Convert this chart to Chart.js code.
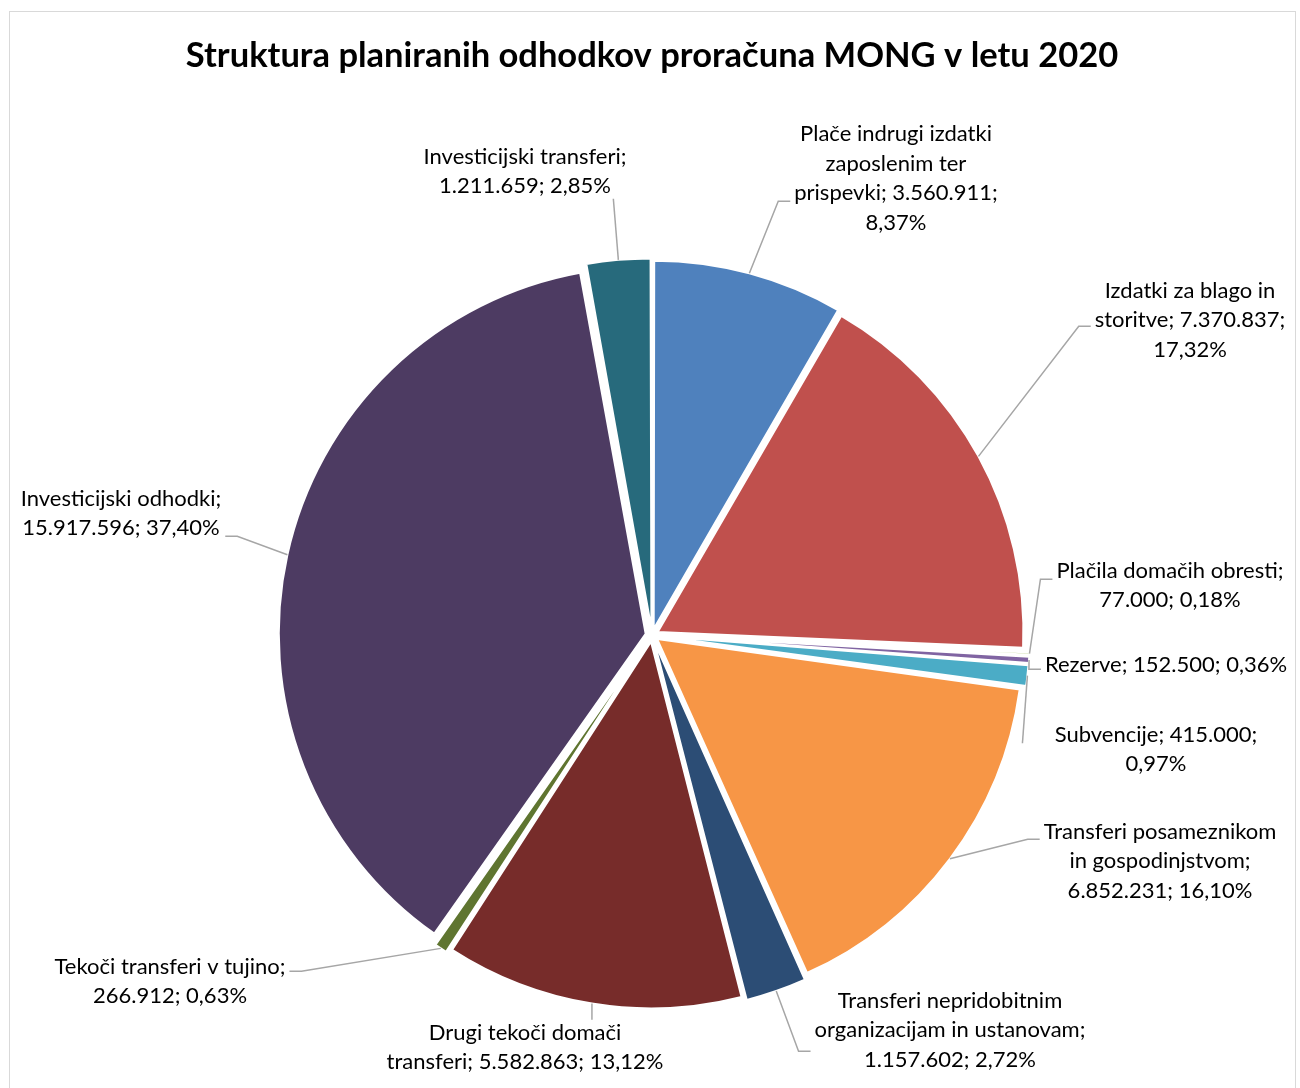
<!DOCTYPE html>
<html>
<head>
<meta charset="utf-8">
<script src="https://cdn.jsdelivr.net/npm/chart.js@4.4.1/dist/chart.umd.min.js"></script>
<style>
  html, body { margin: 0; padding: 0; background: #fff; }
</style>
</head>
<body>
<canvas id="pie" width="1300" height="1088"></canvas>
<script>
const categories = [
  'Plače indrugi izdatki zaposlenim ter prispevki',
  'Izdatki za blago in storitve',
  'Plačila domačih obresti',
  'Rezerve',
  'Subvencije',
  'Transferi posameznikom in gospodinjstvom',
  'Transferi nepridobitnim organizacijam in ustanovam',
  'Drugi tekoči domači transferi',
  'Tekoči transferi v tujino',
  'Investicijski odhodki',
  'Investicijski transferi'
];
const values = [3560911, 7370837, 77000, 152500, 415000, 6852231, 1157602, 5582863, 266912, 15917596, 1211659];
const colors = ['#4F81BD', '#C0504D', '#9BBB59', '#8064A2', '#4BACC6', '#F79646',
                '#2C4D75', '#772C2A', '#5F7530', '#4D3B62', '#276A7C'];

// label block centre relative to pie centre, side where the leader line joins, join y shift
const labelPos = [
  [244, -457, 'l', 23], [538, -315, 'l', 6], [518, -50, 'l', -6], [514, 30, 'l', 4],
  [504, 114, 'v', -6], [508, 226, 'l', -22], [298, 395, 'l', 21], [-127, 412, 't', 0],
  [-482, 346, 'r', -10], [-531, -122, 'r', 23], [-127, -464, 'b', 0]
];
// words on each line of a label
const lineWords = [[3, 2, 2, 1], [4, 2, 1], [3, 2], [3], [2, 1], [2, 2, 2], [2, 3, 2], [3, 3], [4, 2], [2, 2], [2, 2]];

const LINE = 29.5;
const total = values.reduce((a, b) => a + b, 0);
const fmt = v => String(v).replace(/\B(?=(\d{3})+(?!\d))/g, '.');
const pct = v => (v / total * 100).toFixed(2).replace('.', ',') + '%';

function splitLines(text, counts) {
  const words = text.split(' ');
  const lines = [];
  let k = 0;
  counts.forEach(n => { lines.push(words.slice(k, k + n).join(' ')); k += n; });
  return lines;
}

const pieLabels = {
  id: 'pieLabels',
  beforeDraw(chart) {
    const ctx = chart.ctx;
    ctx.save();
    ctx.strokeStyle = '#d9d9d9';
    ctx.lineWidth = 1;
    ctx.strokeRect(9.5, 11.5, 1286, 1100);
    ctx.restore();
  },
  afterDatasetsDraw(chart) {
    const ctx = chart.ctx;
    const meta = chart.getDatasetMeta(0);
    ctx.save();
    ctx.font = '22px Lato';
    ctx.textAlign = 'center';
    ctx.textBaseline = 'middle';
    meta.data.forEach((arc, i) => {
      const p = arc.getProps(['x', 'y', 'startAngle', 'endAngle', 'outerRadius', 'circumference'], true);
      const mid = (p.startAngle + p.endAngle) / 2;
      const t = arc.options.offset / 4;
      const fix = 1 - Math.sin(Math.min(Math.PI, p.circumference));
      const r = p.outerRadius + t * fix + t;
      const sx = p.x + Math.cos(mid) * r;
      const sy = p.y + Math.sin(mid) * r;
      const text = categories[i] + '; ' + fmt(values[i]) + '; ' + pct(values[i]);
      const lines = splitLines(text, lineWords[i]);
      const w = Math.max(...lines.map(l => ctx.measureText(l).width));
      const h = lines.length * LINE;
      const [dx, dy, side, ady] = labelPos[i];
      const cx = p.x + dx, cy = p.y + dy;

      ctx.strokeStyle = '#a6a6a6';
      ctx.lineWidth = 1.5;
      ctx.beginPath();
      ctx.moveTo(sx, sy);
      if (side === 'l') {
        const ex = cx - w / 2 - 4, ay = cy + ady;
        ctx.lineTo(ex - 12, ay);
        ctx.lineTo(ex, ay);
      } else if (side === 'r') {
        const ex = cx + w / 2 + 4, ay = cy + ady;
        ctx.lineTo(ex + 12, ay);
        ctx.lineTo(ex, ay);
      } else if (side === 't') {
        ctx.lineTo(sx, cy - h / 2 + 2);
      } else if (side === 'v') {
        ctx.lineTo(sx - 5, cy + ady);
      } else {
        ctx.lineTo(sx - 5, cy + h / 2 - 2);
      }
      ctx.stroke();

      ctx.fillStyle = '#000';
      lines.forEach((l, k) => ctx.fillText(l, cx, cy - h / 2 + LINE * (k + 0.5)));
    });
    ctx.restore();
  }
};

const chart = new Chart(document.getElementById('pie'), {
  type: 'pie',
  data: {
    labels: categories,
    datasets: [{
      data: values,
      backgroundColor: colors,
      borderColor: '#fff',
      borderWidth: 2,
      offset: 26
    }]
  },
  options: {
    responsive: false,
    animation: false,
    radius: 365,
    layout: { padding: { left: 4, right: 0, top: 0, bottom: 0 } },
    plugins: {
      legend: { display: false },
      tooltip: { enabled: false },
      title: {
        display: true,
        text: 'Struktura planiranih odhodkov proračuna MONG v letu 2020',
        color: '#000',
        font: { family: 'Lato', size: 34.5, weight: 'bold', lineHeight: 1.2 },
        padding: { top: 35, bottom: 106 }
      }
    }
  },
  plugins: [pieLabels]
});
</script>
</body>
</html>
